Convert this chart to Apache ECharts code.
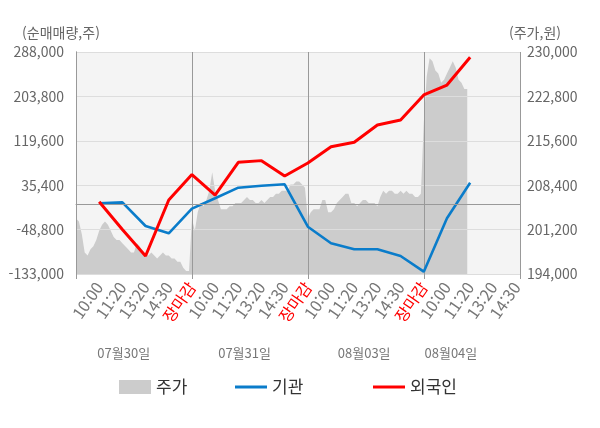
<!DOCTYPE html>
<html lang="ko" style="height: 100%">
<head>
  <meta charset="utf-8">
  <title>주가 / 기관 / 외국인 순매매량</title>
</head>
<body style="height: 100%; margin: 0; background: #fff">
  <div id="chart_div" style="width: 600px; height: 428px;"></div>

  <script type="text/javascript" src="https://fastly.jsdelivr.net/npm/echarts@6/dist/echarts.min.js"></script>
  <script type="text/javascript">
    // x axis: one slot per label, slot 0 is the unlabeled start of the first day
    var xLabels = ['', '10:00', '11:20', '13:20', '14:30', '장마감',
      '10:00', '11:20', '13:20', '14:30', '장마감',
      '10:00', '11:20', '13:20', '14:30', '장마감',
      '10:00', '11:20', '13:20', '14:30'];
    var dates = ['07월30일', '07월31일', '08월03일', '08월04일'];
    var datePos = [2.06, 7.27, 12.43, 16.17];

    // net buying (주), slots 1..17
    var inst = [1000, 2900, -42000, -55800, -9000, 10600, 30700, 34500, 37100,
      -43300, -74800, -86200, -86200, -98900, -128600, -27400, 40100];
    var foreign = [4100, -48600, -98900, 7300, 55500, 16800, 78800, 82000, 52800,
      77500, 108400, 116800, 149600, 159000, 206500, 225400, 278000];

    // price (원), 8 samples per slot starting at slot 0
    var priceStep = 8;
    var price = [
      203000, 202500, 200500, 197500, 197000, 198000, 198500, 199500,
      201000, 202000, 202500, 202000, 201000, 200000, 199500, 199500,
      199000, 198500, 198000, 197500, 197500, 199000, 198500, 197500,
      197000, 197000, 197500, 197000, 196500, 197000, 197500, 197000,
      197000, 196500, 196500, 196000, 196000, 195000, 194500, 194500,
      203000, 201000, 204000, 205500, 205000, 206000, 207500, 210500,
      207500, 206000, 204500, 204500, 204500, 205000, 205000, 205500,
      205500, 205500, 206000, 206500, 206000, 206000, 205500, 205500,
      206000, 205500, 206000, 206500, 206500, 207000, 207000, 207500,
      207500, 207500, 208500, 208500, 209000, 209000, 208500, 208000,
      203000, 204000, 204500, 204500, 204500, 206000, 206000, 204000,
      204000, 204500, 205500, 206000, 206500, 207000, 207000, 205500,
      205500, 205000, 205500, 206000, 206000, 205500, 205500, 205500,
      205000, 206500, 207500, 207000, 207500, 207500, 207000, 207000,
      207500, 207000, 207500, 207000, 207000, 206500, 206500, 207000,
      218500, 226000, 229000, 228500, 227000, 226500, 225000, 225500,
      226500, 227500, 228500, 227500, 225500, 225000, 224000, 224000
    ];

    var dom = document.getElementById('chart_div');
    var myChart = echarts.init(dom, null, { renderer: 'canvas' });
    var font = '"Noto Sans CJK KR", "Noto Sans", sans-serif';

    var priceData = price.map(function (v, k) { return [k / priceStep, v]; });
    var instData = inst.map(function (v, i) { return [i + 1, v]; });
    var foreignData = foreign.map(function (v, i) { return [i + 1, v]; });

    function comma(v) {
      return Number(v).toLocaleString('en-US');
    }

    function legendAt(name, left, h) {
      return {
        data: [{ name: name, icon: 'rect' }], left: left, top: 370,
        itemWidth: 32, itemHeight: h, itemGap: 0,
        textStyle: { fontSize: 17, color: '#333', fontFamily: font, lineHeight: 24 }
      };
    }

    var option = {
      backgroundColor: '#fff',
      textStyle: { fontFamily: font },
      animation: false,
      grid: {
        left: 76, right: 80, top: 52, bottom: 154,
        show: true, backgroundColor: '#f4f4f4', borderWidth: 0
      },
      legend: [
        legendAt('주가', 114, 14),
        legendAt('기관', 230, 3),
        legendAt('외국인', 368, 3)
      ],
      xAxis: [
        {
          type: 'value', min: 0, max: 19.15, interval: 1,
          axisLine: { lineStyle: { color: '#999' } },
          axisTick: { show: false },
          splitLine: { show: false },
          axisLabel: {
            rotate: 55, margin: 10, fontSize: 16, color: '#777',
            formatter: function (v) {
              if (Math.abs(v - Math.round(v)) > 1e-6) return '';
              var s = xLabels[Math.round(v)] || '';
              if (s === '장마감') return '{r|' + s + '}';
              return s;
            },
            rich: { r: { color: '#ff0000', fontSize: 16, fontFamily: font } }
          }
        },
        {
          type: 'value', min: 0, max: 19.15, interval: 5, position: 'bottom', z: 3,
          axisLine: { show: false },
          axisTick: { show: true, length: 5, lineStyle: { color: '#999' } },
          axisLabel: { show: false },
          splitLine: { show: true, lineStyle: { color: '#999', width: 1 } }
        }
      ],
      yAxis: [
        {
          type: 'value', min: -133000, max: 288000, interval: 84200, z: 3,
          axisLine: { show: true, lineStyle: { color: '#999' } },
          axisTick: { show: false },
          splitLine: { lineStyle: { color: '#dddddd' } },
          axisLabel: { color: '#666', fontSize: 14, margin: 12, formatter: comma }
        },
        {
          type: 'value', min: 194000, max: 230000, interval: 7200, position: 'right',
          axisLine: { show: true, lineStyle: { color: '#999' } },
          axisTick: { show: false },
          splitLine: { show: false },
          axisLabel: { color: '#666', fontSize: 14, margin: 7, formatter: comma }
        }
      ],
      graphic: [
        {
          type: 'text', x: 61, y: 33,
          style: { text: '(순매매량,주)', fill: '#666', font: '14px ' + font, align: 'center', verticalAlign: 'middle' }
        },
        {
          type: 'text', x: 535, y: 33,
          style: { text: '(주가,원)', fill: '#666', font: '14px ' + font, align: 'center', verticalAlign: 'middle' }
        }
      ],
      series: [
        {
          name: '주가', type: 'line', xAxisIndex: 0, yAxisIndex: 1, z: 2,
          data: priceData, showSymbol: false, symbol: 'none',
          itemStyle: { color: '#cccccc' },
          lineStyle: { width: 0, color: '#cccccc' },
          areaStyle: { color: '#cccccc', opacity: 1, origin: 'start' }
        },
        {
          name: '기관', type: 'line', xAxisIndex: 0, yAxisIndex: 0, z: 4,
          data: instData, showSymbol: false, symbol: 'none',
          itemStyle: { color: '#0a7cca' },
          lineStyle: { width: 2.6, color: '#0a7cca' },
          markLine: {
            silent: true, symbol: 'none', label: { show: false },
            lineStyle: { color: '#999', type: 'solid', width: 1 },
            data: [{ yAxis: 0 }]
          }
        },
        {
          name: '외국인', type: 'line', xAxisIndex: 0, yAxisIndex: 0, z: 5,
          data: foreignData, showSymbol: false, symbol: 'none',
          itemStyle: { color: '#ff0000' },
          lineStyle: { width: 3, color: '#ff0000' }
        }
      ]
    };

    myChart.setOption(option);

    // day captions under the time labels
    var captions = dates.map(function (d, i) {
      var px = myChart.convertToPixel({ xAxisIndex: 0 }, datePos[i]);
      return {
        type: 'text', x: px, y: 353,
        style: {
          text: d, fill: '#777', font: '13px ' + font,
          align: 'center', verticalAlign: 'middle'
        }
      };
    });
    myChart.setOption({ graphic: option.graphic.concat(captions) });
  </script>
</body>
</html>
